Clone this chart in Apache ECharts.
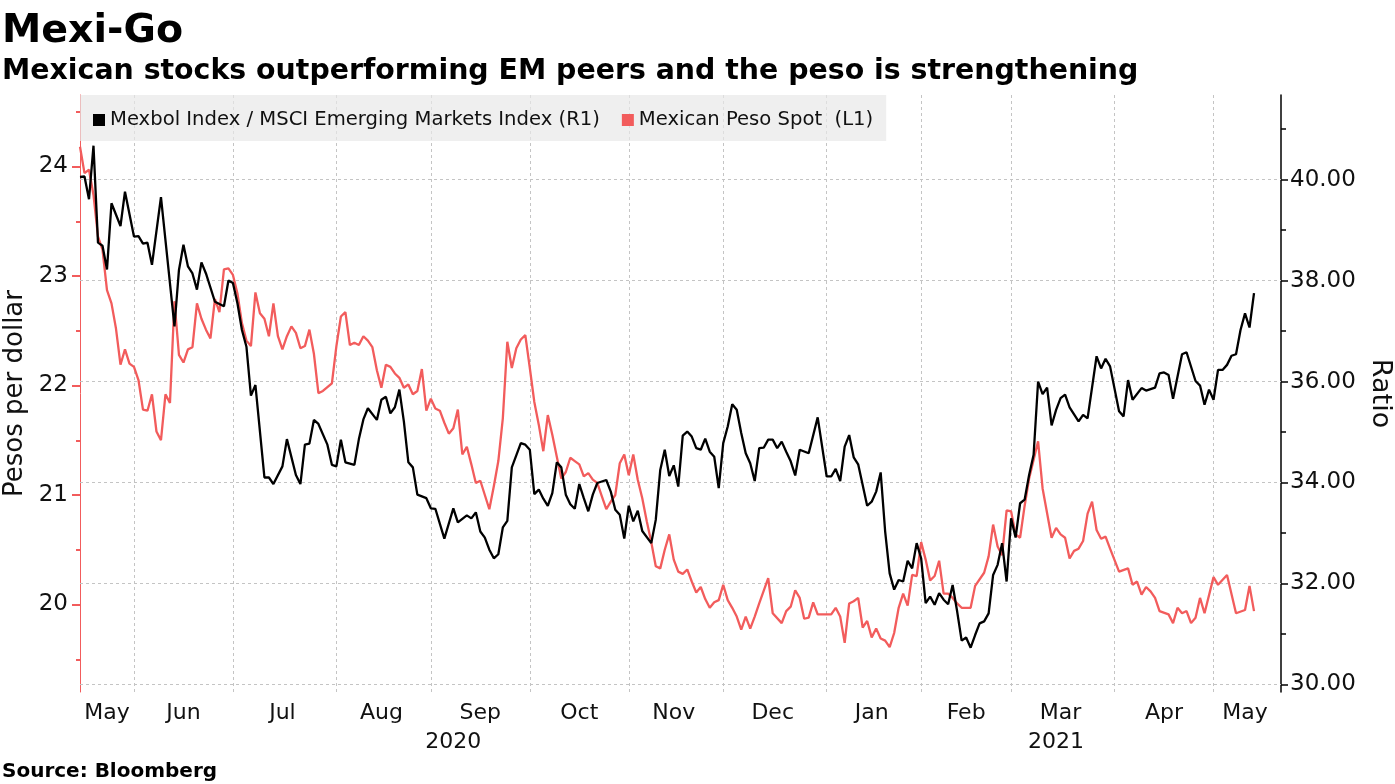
<!DOCTYPE html>
<html><head><meta charset="utf-8">
<script src="https://cdn.jsdelivr.net/npm/echarts@6/dist/echarts.min.js"></script>
<style>html,body{margin:0;padding:0;background:#fff}#c{width:1395px;height:784px}</style>
</head><body><div id="c"></div>
<script>
// ---- tick labels / axis values ----
const monthNames = ['Jan','Feb','Mar','Apr','May','Jun','Jul','Aug','Sep','Oct','Nov','Dec'];
const pesoLabelValues = [20, 21, 22, 23, 24];
const pesoMinorValues = [19.5, 20.5, 21.5, 22.5, 23.5, 24.5];
const ratioLabelValues = [30, 32, 34, 36, 38, 40];
const ratioMinorValues = [31, 33, 35, 37, 39, 41];

// ---- categories: trading (week) days from 14 May 2020 to 24 May 2021 ----
const categories = [];
for (let t = Date.UTC(2020, 4, 14); t <= Date.UTC(2021, 4, 24); t += 86400000) {
  const d = new Date(t), wd = d.getUTCDay();
  if (wd > 0 && wd < 6) categories.push(d.toISOString().slice(0, 10));
}

// ---- series: Mexbol / MSCI EM ratio (right axis), day = index into categories ----
const ratioDay = [0,1,2,3,4,5,6,7,9,10,12,13,14,15,16,18,21,22,23,24,25,26,27,28,30,32,33,34,35,36,37,38,39,41,42,43,45,46,48,49,50,51,52,53,55,56,57,58,59,61,62,63,64,66,67,68,69,70,71,72,73,74,75,77,78,79,81,83,84,86,87,88,89,90,91,92,93,94,95,96,98,99,100,101,102,103,104,105,106,107,108,109,110,111,112,113,114,115,116,117,118,119,120,121,122,123,124,125,127,128,129,130,131,132,133,134,135,136,137,138,139,140,141,142,143,144,145,146,147,148,149,150,151,152,153,154,155,156,157,158,159,160,162,164,166,167,168,169,170,171,172,173,175,176,177,178,179,180,181,182,183,184,185,186,187,188,189,190,191,192,193,194,195,196,197,198,199,200,201,202,203,204,205,206,207,208,209,210,211,212,213,214,215,216,217,218,219,220,222,223,224,226,227,228,229,231,232,233,234,236,237,239,240,241,242,243,245,246,248,249,250,251,252,253,254,255,256,257,258,259,260,261];
const ratioValue = [40.05,40.06,39.61,40.67,38.75,38.69,38.22,39.53,39.08,39.76,38.87,38.88,38.73,38.75,38.31,39.65,37.09,38.21,38.71,38.28,38.14,37.82,38.36,38.14,37.58,37.49,38.00,37.95,37.55,37.02,36.69,35.72,35.93,34.10,34.10,33.97,34.32,34.86,34.15,33.97,34.75,34.77,35.24,35.16,34.75,34.35,34.32,34.85,34.40,34.35,34.86,35.25,35.47,35.24,35.64,35.70,35.37,35.49,35.84,35.21,34.40,34.30,33.76,33.69,33.49,33.48,32.89,33.49,33.21,33.35,33.29,33.41,33.03,32.91,32.67,32.50,32.58,33.11,33.24,34.30,34.78,34.75,34.65,33.77,33.86,33.68,33.54,33.79,34.40,34.30,33.76,33.57,33.48,33.97,33.69,33.43,33.76,33.99,34.02,34.05,33.82,33.46,33.36,32.89,33.54,33.23,33.44,33.04,32.80,33.26,34.25,34.65,34.13,34.34,33.92,34.93,35.01,34.91,34.68,34.65,34.87,34.61,34.51,33.89,34.78,35.11,35.55,35.44,34.98,34.58,34.38,34.03,34.68,34.69,34.85,34.85,34.68,34.81,34.61,34.42,34.14,34.65,34.58,35.29,34.12,34.12,34.27,34.03,34.71,34.94,34.50,34.36,33.54,33.62,33.82,34.20,33.03,32.20,31.88,32.07,32.04,32.45,32.30,32.80,32.50,31.61,31.74,31.58,31.81,31.68,31.59,31.97,31.45,30.87,30.93,30.73,30.98,31.21,31.25,31.41,32.17,32.37,32.80,32.04,33.29,32.91,33.59,33.66,34.15,34.55,36.00,35.75,35.88,35.13,35.44,35.67,35.74,35.49,35.21,35.34,35.27,36.50,36.26,36.45,36.30,35.41,35.31,36.03,35.64,35.87,35.82,35.88,36.16,36.18,36.13,35.66,36.54,36.58,36.01,35.92,35.54,35.84,35.64,36.23,36.23,36.33,36.51,36.54,37.02,37.35,37.07,37.75];

// ---- series: Mexican peso spot (left axis) ----
const pesoDay = [0,1,2,3,4,5,6,7,8,9,10,11,12,13,14,15,16,17,18,19,20,21,22,23,24,25,26,27,28,29,30,31,32,33,34,35,36,37,38,39,40,41,42,43,44,45,46,47,48,49,50,51,52,53,54,56,57,58,59,60,61,62,63,64,65,66,67,68,69,70,71,72,73,74,75,76,77,78,79,80,81,82,83,84,85,86,87,88,89,90,91,92,93,94,95,96,97,98,99,100,101,102,103,104,105,106,107,108,109,110,111,112,113,114,115,116,117,118,119,120,121,122,123,124,125,126,127,128,129,130,131,132,133,134,135,136,137,138,139,140,141,142,143,144,145,146,147,148,149,150,151,153,154,156,157,158,159,160,161,162,163,164,166,167,168,169,170,171,172,173,174,175,176,177,178,179,180,181,182,183,184,185,186,187,188,189,190,191,192,193,194,195,196,198,199,201,202,203,204,205,206,207,208,209,210,211,213,214,216,217,218,219,220,221,222,223,224,225,226,227,228,229,231,233,234,235,236,237,238,239,240,242,243,244,245,246,247,248,249,250,252,253,255,257,259,260,261];
const pesoValue = [24.18,23.94,23.97,23.74,23.36,23.24,22.87,22.75,22.52,22.19,22.33,22.20,22.17,22.05,21.78,21.77,21.92,21.58,21.50,21.92,21.84,22.77,22.28,22.21,22.33,22.35,22.75,22.61,22.51,22.43,22.79,22.67,23.06,23.07,23.01,22.84,22.57,22.41,22.36,22.85,22.66,22.61,22.45,22.75,22.45,22.33,22.45,22.54,22.48,22.34,22.36,22.51,22.29,21.93,21.95,22.02,22.36,22.63,22.67,22.37,22.39,22.37,22.45,22.41,22.35,22.14,21.98,22.19,22.17,22.11,22.07,21.98,22.01,21.92,21.95,22.15,21.77,21.88,21.79,21.77,21.66,21.56,21.61,21.78,21.37,21.44,21.28,21.11,21.13,21.00,20.87,21.08,21.31,21.70,22.40,22.16,22.34,22.42,22.46,22.16,21.85,21.64,21.40,21.73,21.55,21.35,21.15,21.21,21.34,21.31,21.28,21.17,21.20,21.14,21.11,20.99,20.87,20.94,21.00,21.29,21.37,21.18,21.37,21.14,20.97,20.76,20.57,20.35,20.33,20.50,20.64,20.41,20.30,20.28,20.32,20.21,20.11,20.16,20.05,19.97,20.02,20.04,20.18,20.04,19.97,19.89,19.77,19.89,19.78,19.89,20.01,20.24,19.92,19.83,19.94,19.98,20.13,20.06,19.87,19.88,20.02,19.91,19.91,19.91,19.97,19.89,19.65,20.01,20.03,20.06,19.79,19.85,19.70,19.78,19.69,19.67,19.61,19.74,19.97,20.10,19.99,20.27,20.26,20.57,20.41,20.22,20.26,20.40,20.10,20.10,20.06,20.01,19.97,19.97,20.17,20.29,20.44,20.73,20.53,20.45,20.86,20.85,20.64,20.61,20.90,21.15,21.49,21.06,20.61,20.70,20.64,20.61,20.42,20.49,20.51,20.58,20.83,20.94,20.68,20.60,20.62,20.51,20.30,20.33,20.18,20.21,20.09,20.16,20.12,20.06,19.94,19.91,19.83,19.97,19.92,19.94,19.83,19.88,20.06,19.92,20.25,20.18,20.27,19.92,19.95,20.17,19.94];

const RED = '#f25c5c';
const FONT = 'DejaVu Sans';

// month boundaries and label positions (derived from categories)
const monthStart = [0];
for (let i = 1; i < categories.length; i++) if (categories[i].slice(5, 7) !== categories[i - 1].slice(5, 7)) monthStart.push(i);
const isBoundary = new Set(monthStart.slice(1));
const bounds = monthStart.concat([categories.length - 1]);
const monthMid = new Set();
for (let k = 0; k < bounds.length - 1; k++) monthMid.add(Math.floor((bounds[k] + bounds[k + 1]) / 2));
const yearStart = [0];
for (let i = 1; i < categories.length; i++) if (categories[i].slice(0, 4) !== categories[i - 1].slice(0, 4)) yearStart.push(i);
const yb = yearStart.concat([categories.length - 1]);
const yearMid = new Set();
for (let k = 0; k < yb.length - 1; k++) yearMid.add(Math.round((yb[k] + yb[k + 1]) / 2));

const pMin = 19.201, pMax = 24.653, rMin = 29.852, rMax = 41.674;

const chart = echarts.init(document.getElementById('c'), null, {renderer: 'canvas'});
chart.setOption({
  animation: false,
  backgroundColor: '#fff',
  title: [
    {text: 'Mexi-Go', left: -3, top: 7, textStyle: {fontFamily: FONT, fontWeight: 'bold', fontSize: 39.5, color: '#000'}},
    {text: 'Mexican stocks outperforming EM peers and the peso is strengthening', left: -3, top: 53, textStyle: {fontFamily: FONT, fontWeight: 'bold', fontSize: 28.4, color: '#000'}},
    {text: 'Source: Bloomberg', left: -3, top: 757, textStyle: {fontFamily: FONT, fontWeight: 'bold', fontSize: 20, color: '#000'}}
  ],
  legend: {
    left: 80, top: 95, padding: [15, 13, 11, 13], itemGap: 22, itemWidth: 12, itemHeight: 12,
    backgroundColor: 'rgba(232,232,232,0.7)', icon: 'rect',
    data: ['Mexbol Index / MSCI Emerging Markets Index (R1)', 'Mexican Peso Spot  (L1)'],
    textStyle: {fontFamily: FONT, fontSize: 19.6, color: '#111'}
  },
  grid: {left: 80, right: 114, top: 95, bottom: 92, containLabel: false, outerBoundsMode: 'none'},
  xAxis: [
    {type: 'category', data: categories, boundaryGap: false,
      axisLine: {show: false}, axisTick: {show: false},
      axisLabel: {interval: (i) => monthMid.has(i), formatter: (v) => monthNames[+v.slice(5, 7) - 1], fontFamily: FONT, fontSize: 22, color: '#111', margin: 10},
      splitLine: {show: true, interval: (i) => isBoundary.has(i), lineStyle: {color: '#c4c4c4', type: [3, 3], width: 1}}},
    {type: 'category', data: categories, boundaryGap: false, position: 'bottom', offset: 29,
      axisLine: {show: false}, axisTick: {show: false}, splitLine: {show: false},
      axisLabel: {interval: (i) => yearMid.has(i), formatter: (v) => v.slice(0, 4), fontFamily: FONT, fontSize: 22, color: '#111', margin: 10}}
  ],
  yAxis: [
    {type: 'value', position: 'left', min: pMin, max: pMax,
      name: 'Pesos per dollar', nameLocation: 'middle', nameRotate: 90, nameGap: 44,
      nameTextStyle: {fontFamily: FONT, fontSize: 26, color: '#111'},
      axisLine: {show: true, lineStyle: {color: RED, width: 1}},
      axisTick: {show: true, customValues: pesoLabelValues, length: 8, lineStyle: {color: RED, width: 2}},
      axisLabel: {customValues: pesoLabelValues, fontFamily: FONT, fontSize: 23, color: '#111', margin: 12},
      splitLine: {show: false}},
    {type: 'value', position: 'right', min: rMin, max: rMax,
      name: 'Ratio', nameLocation: 'middle', nameRotate: -90, nameGap: 80,
      nameTextStyle: {fontFamily: FONT, fontSize: 27, color: '#111'},
      axisLine: {show: true, lineStyle: {color: '#000', width: 1.5}},
      axisTick: {show: true, customValues: ratioLabelValues, length: 7, lineStyle: {color: '#000', width: 1.5}},
      axisLabel: {customValues: ratioLabelValues, formatter: (v) => v.toFixed(2), fontFamily: FONT, fontSize: 23, color: '#111', margin: 9},
      splitLine: {show: false}},
    {type: 'value', position: 'left', min: pMin, max: pMax,
      axisLine: {show: false}, axisLabel: {show: false}, splitLine: {show: false},
      axisTick: {show: true, customValues: pesoMinorValues, length: 4, lineStyle: {color: RED, width: 2}}},
    {type: 'value', position: 'right', min: rMin, max: rMax,
      axisLine: {show: false}, axisLabel: {show: false}, splitLine: {show: false},
      axisTick: {show: true, customValues: ratioMinorValues, length: 5, lineStyle: {color: '#000', width: 1.5}}}
  ],
  series: [
    {name: 'Mexican Peso Spot  (L1)', type: 'line', xAxisIndex: 0, yAxisIndex: 0,
      data: pesoDay.map((d, i) => [d, pesoValue[i]]),
      showSymbol: false, symbol: 'none', color: RED,
      lineStyle: {color: RED, width: 2.3}, z: 3},
    {name: 'Mexbol Index / MSCI Emerging Markets Index (R1)', type: 'line', xAxisIndex: 0, yAxisIndex: 1,
      data: ratioDay.map((d, i) => [d, ratioValue[i]]),
      showSymbol: false, symbol: 'none', color: '#000',
      lineStyle: {color: '#000', width: 2.3}, z: 4,
      markLine: {silent: true, symbol: 'none', label: {show: false}, animation: false,
        lineStyle: {color: '#c4c4c4', type: [3, 3], width: 1},
        data: ratioLabelValues.map(v => ({yAxis: v})), z: 1}}
  ]
});
</script></body></html>
